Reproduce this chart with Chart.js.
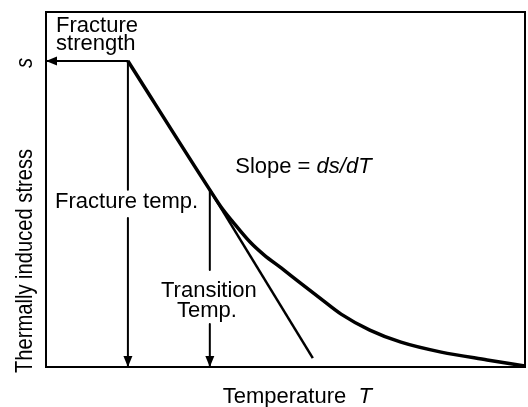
<!DOCTYPE html>
<html>
<head>
<meta charset="utf-8">
<script src="https://cdn.jsdelivr.net/npm/chart.js@4/dist/chart.umd.min.js"></script>
<style>
  html, body { margin: 0; padding: 0; background: #fff; }
  #wrap { width: 528px; height: 407px; }
</style>
</head>
<body>
<div id="wrap"><canvas id="c" width="528" height="407"></canvas></div>
<script>
// Thermally induced stress s versus temperature T (schematic, arbitrary units 0–100)
const curveT = [17.1, 34.2, 36.7, 39.0, 42.6, 45.5, 49.1, 52.6, 57.2, 61.6, 67.6, 74.1, 82.5, 92.1, 100];
const curveS = [86.2, 49.9, 44.8, 40.9, 35.2, 31.6, 27.9, 24.2, 19.4, 14.9, 10.4, 7.0, 4.2, 2.0, 0.3];

// Tangent at the transition point (slope = ds/dT)
const tangentT = [34.2, 55.7];
const tangentS = [49.9, 2.5];

// Key temperatures and the fracture strength
const fractureTemp = 17.1;
const transitionTemp = 34.2;
const fractureStrength = 86.2;
const transitionStress = 49.9;

// Breaks in the vertical leader lines, where their labels sit
const fractureGap = [49.9, 42.0];
const transitionGap = [27.3, 12.1];

const FONT = "'Liberation Sans', Arial, sans-serif";

const pts = (xs, ys) => xs.map((x, i) => ({ x, y: ys[i] }));

const datasets = [
  { data: pts(curveT, curveS), borderWidth: 3.5, cubicInterpolationMode: 'monotone' },
  { data: pts(tangentT, tangentS), borderWidth: 2.5 },
  { data: [{ x: fractureTemp, y: fractureStrength }, { x: 0, y: fractureStrength }], borderWidth: 2, arrow: true },
  { data: [{ x: fractureTemp, y: fractureStrength }, { x: fractureTemp, y: fractureGap[0] },
           { x: fractureTemp, y: null },
           { x: fractureTemp, y: fractureGap[1] }, { x: fractureTemp, y: 0 }], borderWidth: 2, arrow: true },
  { data: [{ x: transitionTemp, y: transitionStress }, { x: transitionTemp, y: transitionGap[0] },
           { x: transitionTemp, y: null },
           { x: transitionTemp, y: transitionGap[1] }, { x: transitionTemp, y: 0 }], borderWidth: 2, arrow: true }
].map(d => Object.assign({
  showLine: true, borderColor: '#000', backgroundColor: '#000',
  pointRadius: 0, pointHoverRadius: 0, tension: 0, spanGaps: false,
  borderCapStyle: 'butt', borderJoinStyle: 'round'
}, d));

// Labels placed in data coordinates (x, baseline y)
const notes = [
  { parts: [['Fracture', '']], x: 2.1, y: 94.4, align: 'left' },
  { parts: [['strength', '']], x: 2.1, y: 89.3, align: 'left' },
  { parts: [['Fracture temp.', '']], x: 1.9, y: 44.8, align: 'left' },
  { parts: [['Slope = ', ''], ['ds/dT', 'italic ']], x: 39.5, y: 54.6, align: 'left' },
  { parts: [['Transition', '']], x: 34.0, y: 19.7, align: 'center' },
  { parts: [['Temp.', '']], x: 33.6, y: 14.1, align: 'center' }
];

function drawParts(ctx, parts, x, y, align, size) {
  let total = 0;
  const widths = parts.map(([t, st]) => { ctx.font = st + size + 'px ' + FONT; const w = ctx.measureText(t).width; total += w; return w; });
  let cx = align === 'center' ? x - total / 2 : x;
  parts.forEach(([t, st], i) => {
    ctx.font = st + size + 'px ' + FONT;
    ctx.textAlign = 'left';
    ctx.fillText(t, cx, y);
    cx += widths[i];
  });
}

const decor = {
  id: 'decor',
  afterDatasetsDraw(chart) {
    const ctx = chart.ctx, a = chart.chartArea;
    const xs = chart.scales.x, ys = chart.scales.y;
    ctx.save();
    // frame
    ctx.strokeStyle = '#000';
    ctx.lineWidth = 2;
    ctx.strokeRect(a.left, a.top, a.right - a.left, a.bottom - a.top);

    // arrowheads at the final point of each leader line
    chart.data.datasets.forEach((ds, i) => {
      if (!ds.arrow) return;
      const els = chart.getDatasetMeta(i).data;
      const p1 = els[els.length - 1], p0 = els[els.length - 2];
      const ang = Math.atan2(p1.y - p0.y, p1.x - p0.x);
      const len = 11, half = 4.5;
      ctx.fillStyle = '#000';
      ctx.beginPath();
      ctx.moveTo(p1.x, p1.y);
      ctx.lineTo(p1.x - len * Math.cos(ang) + half * Math.sin(ang), p1.y - len * Math.sin(ang) - half * Math.cos(ang));
      ctx.lineTo(p1.x - len * Math.cos(ang) - half * Math.sin(ang), p1.y - len * Math.sin(ang) + half * Math.cos(ang));
      ctx.closePath();
      ctx.fill();
    });

    // labels
    ctx.fillStyle = '#000';
    ctx.textBaseline = 'alphabetic';
    notes.forEach(n => drawParts(ctx, n.parts, xs.getPixelForValue(n.x), ys.getPixelForValue(n.y), n.align, 22));

    // x-axis title
    drawParts(ctx, [['Temperature  ', ''], ['T', 'italic ']], xs.getPixelForValue(36.9), a.bottom + 36, 'left', 22);

    // y-axis title, rotated and slightly condensed
    ctx.translate(a.left - 14, a.bottom + 6);
    ctx.rotate(-Math.PI / 2);
    ctx.scale(0.84, 1);
    drawParts(ctx, [['Thermally induced stress', '']], 0, 0, 'left', 24);
    ctx.restore();
    ctx.save();
    ctx.translate(a.left - 14, ys.getPixelForValue(84.2));
    ctx.rotate(-Math.PI / 2);
    ctx.scale(0.84, 1);
    ctx.fillStyle = '#000';
    drawParts(ctx, [['s', 'italic ']], 0, 0, 'left', 24);
    ctx.restore();
  }
};

new Chart(document.getElementById('c'), {
  type: 'scatter',
  data: { datasets },
  options: {
    responsive: false,
    animation: false,
    events: [],
    layout: { padding: { left: 46, right: 3, top: 12, bottom: 40 } },
    plugins: { legend: { display: false }, tooltip: { enabled: false }, title: { display: false } },
    scales: {
      x: { type: 'linear', min: 0, max: 100, display: false },
      y: { type: 'linear', min: 0, max: 100, display: false }
    }
  },
  plugins: [decor]
});
</script>
</body>
</html>
